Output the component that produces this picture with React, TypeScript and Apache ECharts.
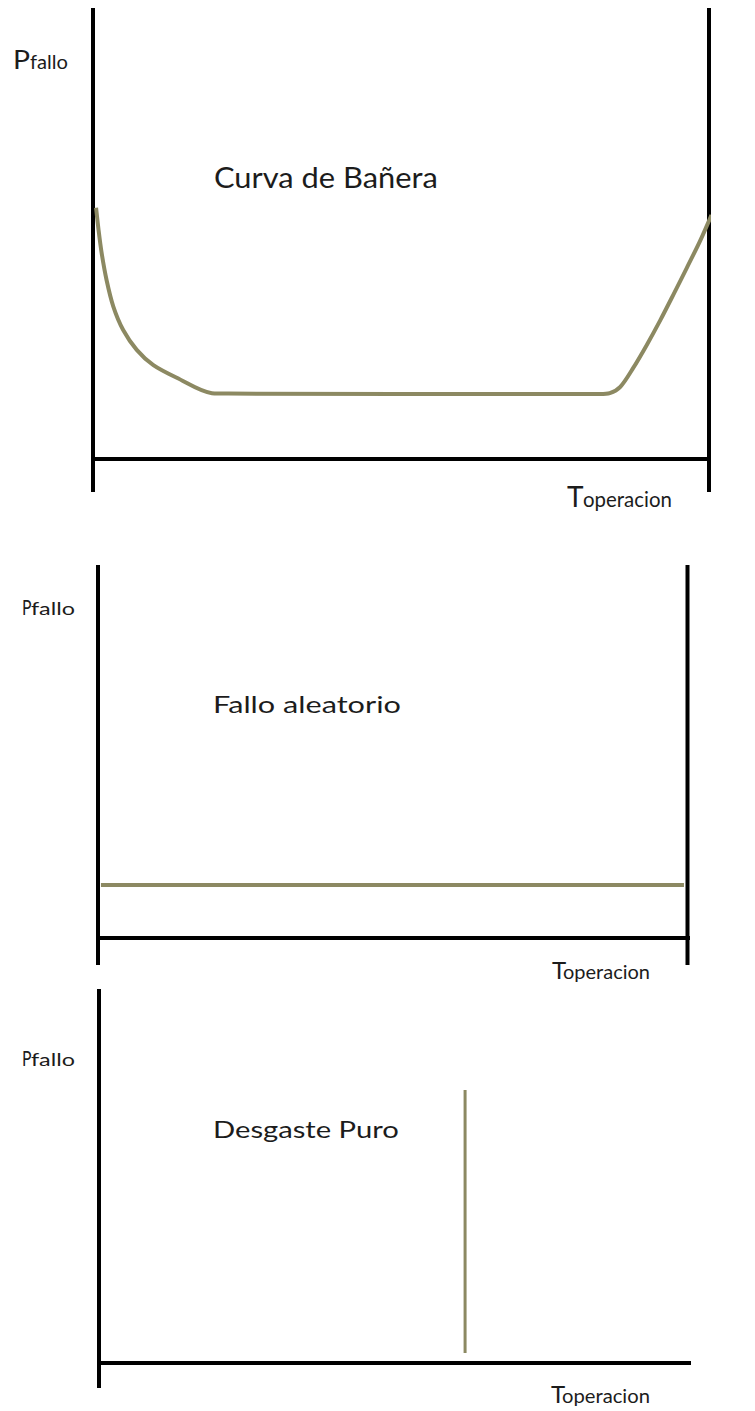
import React, { useEffect, useRef } from 'react';
import * as echarts from 'echarts';

// ---- DATA (x: tiempo de operación 0-100, y: probabilidad de fallo 0-100) ----
// Panel 1: Curva de Bañera
const bathtubX = [0.5, 0.9, 1.4, 2.2, 3.3, 4.9, 7.1, 9.8, 13.6, 19.3, 22.0, 77.0, 79.5, 82.3, 83.9, 85.6, 87.7, 89.9, 92.1, 94.2, 96.4, 98.5, 100.4];
const bathtubY = [55.7, 50.8, 45.7, 39.7, 33.8, 28.6, 24.2, 20.8, 18.0, 14.6, 14.5, 14.4, 14.4, 14.4, 14.6, 16.0, 20.2, 25.3, 30.8, 36.4, 42.4, 48.2, 54.1];
// Panel 2: Fallo aleatorio
const randomX = [0.5, 99.4];
const randomY = [14.2, 14.2];
// Panel 3: Desgaste Puro
const wearX = [62.1, 62.1];
const wearY = [2.7, 73.0];

// Axis frame lines per panel (data units)
const hAxisExtent = [[-3.25, 107.5], [-3.39, 108.7], [-3.56, 108.6]];
const vAxisExtent = [[-7.3, 100], [-7.24, 100], [-6.68, 100]];
const vAxisPositions = [[0, 100], [0, 100], [0]];

const panelTitles = ['Curva de Bañera', 'Fallo aleatorio', 'Desgaste Puro'];
const yName = ['P', 'fallo'];
const xName = ['T', 'operacion'];

const FONT = 'Lato';
const TEXT_COLOR = '#1c1c1c';
const OLIVE = '#8c8962';

// layout (pixels)
const grids = [
  { left: 93, top: 8, width: 616, height: 451 },
  { left: 98, top: 565, width: 589.5, height: 373 },
  { left: 99, top: 989, width: 589.5, height: 374 },
];

type TL = { x: number; base: number; fs: number; w?: number };
const layouts: { title: TL; p: TL; fallo: TL; t: TL; op: TL }[] = [
  {
    title: { x: 214, base: 188, fs: 28, w: 224 },
    p: { x: 13, base: 69, fs: 26, w: 17 },
    fallo: { x: 30, base: 69, fs: 19, w: 38 },
    t: { x: 567, base: 507, fs: 28 },
    op: { x: 583, base: 507, fs: 21, w: 89 },
  },
  {
    title: { x: 213, base: 713, fs: 24, w: 188 },
    p: { x: 22, base: 615, fs: 22, w: 9.5 },
    fallo: { x: 31, base: 615, fs: 18, w: 44 },
    t: { x: 552, base: 979, fs: 24 },
    op: { x: 563, base: 979, fs: 20, w: 87 },
  },
  {
    title: { x: 213, base: 1139, fs: 24, w: 186 },
    p: { x: 22, base: 1066, fs: 22, w: 9.5 },
    fallo: { x: 31, base: 1066, fs: 18, w: 44 },
    t: { x: 551, base: 1403, fs: 24 },
    op: { x: 562, base: 1403, fs: 20, w: 88 },
  },
];

function measure(text: string, fs: number) {
  const ctx = document.createElement('canvas').getContext('2d')!;
  ctx.font = `${fs}px ${FONT}`;
  const m = ctx.measureText(text);
  const asc = (m as any).fontBoundingBoxAscent ?? fs * 0.987;
  const desc = (m as any).fontBoundingBoxDescent ?? fs * 0.213;
  return { width: m.width, central: (asc - desc) / 2 };
}

function textEl(text: string, l: TL) {
  const m = measure(text, l.fs);
  const scaleX = l.w ? l.w / m.width : 1;
  return {
    type: 'text',
    x: l.x,
    y: l.base - m.central,
    scaleX,
    silent: true,
    style: {
      text,
      fontSize: l.fs,
      fontFamily: FONT,
      fill: TEXT_COLOR,
      align: 'left',
      verticalAlign: 'middle',
    },
  };
}

function lineSeries(idx: number, data: number[][], color: string, width: number, z = 2, smooth: number | boolean = false) {
  return {
    type: 'line',
    xAxisIndex: idx,
    yAxisIndex: idx,
    data,
    symbol: 'none',
    clip: false,
    silent: true,
    smooth,
    z,
    lineStyle: { color, width, cap: 'butt', join: 'round' },
  };
}

export default function App() {
  const ref = useRef<HTMLDivElement>(null);

  useEffect(() => {
    if (!ref.current) return;
    const chart = echarts.init(ref.current, undefined, { renderer: 'svg' });

    const series: any[] = [];
    for (let i = 0; i < 3; i++) {
      series.push(lineSeries(i, hAxisExtent[i].map((x) => [x, 0]), '#000', 4));
      vAxisPositions[i].forEach((vx) => {
        series.push(lineSeries(i, vAxisExtent[i].map((y) => [vx, y]), '#000', 4));
      });
    }
    series.push(lineSeries(0, bathtubX.map((x, k) => [x, bathtubY[k]]), OLIVE, 4, 3, 0.3));
    series.push(lineSeries(1, randomX.map((x, k) => [x, randomY[k]]), OLIVE, 4, 3));
    series.push(lineSeries(2, wearX.map((x, k) => [x, wearY[k]]), OLIVE, 3, 3));

    const graphic: any[] = [];
    layouts.forEach((l, i) => {
      graphic.push(textEl(panelTitles[i], l.title));
      graphic.push(textEl(yName[0], l.p));
      graphic.push(textEl(yName[1], l.fallo));
      graphic.push(textEl(xName[0], l.t));
      graphic.push(textEl(xName[1], l.op));
    });

    chart.setOption({
      animation: false,
      backgroundColor: '#ffffff',
      grid: grids.map((g) => ({ ...g, containLabel: false })),
      xAxis: grids.map((_, i) => ({ type: 'value', gridIndex: i, min: 0, max: 100, show: false })),
      yAxis: grids.map((_, i) => ({ type: 'value', gridIndex: i, min: 0, max: 100, show: false })),
      series,
      graphic,
    });

    return () => chart.dispose();
  }, []);

  return (
    <div
      ref={ref}
      style={{ position: 'absolute', left: 0, top: 0, width: 755, height: 1411, background: '#fff' }}
    />
  );
}
